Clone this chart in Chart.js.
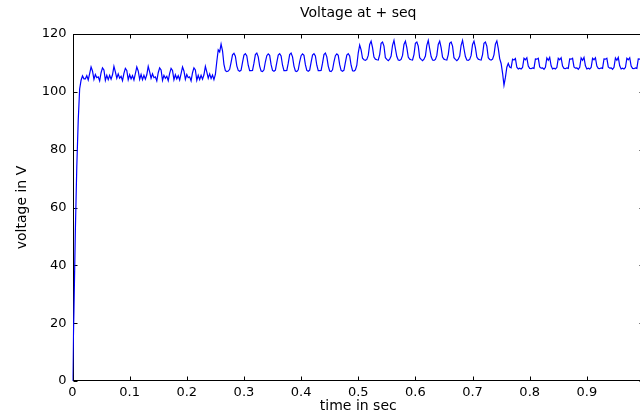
<!DOCTYPE html>
<html>
<head>
<meta charset="utf-8">
<title>Voltage at + seq</title>
<script src="https://cdn.jsdelivr.net/npm/chart.js@4.4.1/dist/chart.umd.min.js"></script>
<style>
  html, body { margin: 0; padding: 0; background: #fff; overflow: hidden; }
  #wrap { width: 650px; height: 416px; }
</style>
</head>
<body>
<div id="wrap"><canvas id="voltChart" width="650" height="416"></canvas></div>
<script>
// sampling of the waveform (sec between samples)
const sampleStep = 0.0025;

// 0 - 0.25 s : start-up then ~105 V ripple
const seg1 = [
    0, 24, 52, 74, 90, 101, 104, 105.5, 104.5,
    104.5, 105.6, 104.1, 106.3, 108.6, 107.2, 104.3, 106.0,
    104.9, 105.2, 103.8, 106.6, 108.3, 107.6, 104.0, 105.7,
    104.2, 105.7, 104.4, 105.9, 108.8, 106.9, 104.7, 106.2,
    104.7, 105.4, 103.9, 106.4, 108.1, 107.4, 104.2, 105.9,
    104.5, 105.6, 104.1, 106.3, 108.6, 107.2, 104.3, 106.0,
    104.2, 105.7, 104.4, 105.9, 108.8, 106.9, 104.7, 106.2,
    104.9, 105.2, 103.8, 106.6, 108.3, 107.6, 104.0, 105.7,
    104.7, 105.4, 103.9, 106.4, 108.1, 107.4, 104.2, 105.9,
    104.5, 105.6, 104.1, 106.3, 108.6, 107.2, 104.3, 106.0,
    104.9, 105.2, 103.8, 106.6, 108.3, 107.6, 104.0, 105.7,
    104.2, 105.7, 104.4, 105.9, 108.8, 106.9, 104.7, 106.2,
    104.6, 105.8, 104.2
];

// 0.25 - 0.5 s
const seg2 = [
    106, 110.5, 114.5, 113.8, 116.5, 114.2, 109.5, 107.3, 107.0,
    107.2, 107.8, 110.2, 112.8, 113.3, 112.3, 109.0, 107.4,
    107.1, 107.5, 110.2, 112.7, 113.2, 112.4, 109.2, 107.3,
    107.3, 107.4, 109.9, 112.9, 113.4, 112.1, 108.9, 107.2,
    107.0, 107.6, 110.4, 112.5, 113.1, 112.6, 109.4, 107.4,
    107.1, 107.5, 110.2, 112.7, 113.2, 112.4, 109.2, 107.3,
    107.3, 107.4, 109.9, 112.9, 113.4, 112.1, 108.9, 107.2,
    107.0, 107.6, 110.4, 112.5, 113.1, 112.6, 109.4, 107.4,
    107.1, 107.5, 110.2, 112.7, 113.2, 112.4, 109.2, 107.3,
    107.3, 107.4, 109.9, 112.9, 113.4, 112.1, 108.9, 107.2,
    107.0, 107.6, 110.4, 112.5, 113.1, 112.6, 109.4, 107.4,
    107.1, 107.5, 110.2, 112.7, 113.2, 112.4, 109.2, 107.3,
    107.2, 107.6, 109.2
];

// 0.5 - 0.75 s
const seg3 = [
    113.5, 116.2, 114.5, 111.6, 111.1,
    110.9, 111.2, 112.6, 116.4, 117.5, 115.3, 112.0, 111.3,
    111.1, 111.0, 112.9, 116.8, 117.2, 115.8, 111.8, 111.2,
    110.8, 111.3, 112.4, 116.1, 117.8, 114.9, 112.2, 111.0,
    110.9, 111.2, 112.6, 116.4, 117.5, 115.3, 112.0, 111.3,
    111.1, 111.0, 112.9, 116.8, 117.2, 115.8, 111.8, 111.2,
    110.8, 111.3, 112.4, 116.1, 117.8, 114.9, 112.2, 111.0,
    110.9, 111.2, 112.6, 116.4, 117.5, 115.3, 112.0, 111.3,
    111.1, 111.0, 112.9, 116.8, 117.2, 115.8, 111.8, 111.2,
    110.8, 111.3, 112.4, 116.1, 117.8, 114.9, 112.2, 111.0,
    110.9, 111.2, 112.6, 116.4, 117.5, 115.3, 112.0, 111.3,
    111.1, 111.0, 112.9, 116.8, 117.2, 115.8, 111.8, 111.2,
    111.0, 111.3, 112.8, 116.5, 117.6, 115.0, 111.5
];

// 0.75 - 1.0 s : dip then ~108 V ripple
const seg4 = [
    109.8, 106.5, 102.3, 105.0, 108.5, 109.8, 108.6, 108.3, 111.3, 111.0, 111.5, 108.5, 107.9,
    108.2, 107.9, 108.4, 111.6, 111.1, 111.8, 108.9, 108.1,
    108.0, 108.3, 108.1, 111.4, 111.3, 111.6, 108.6, 108.2,
    108.3, 107.8, 108.5, 111.7, 110.9, 111.9, 109.0, 107.9,
    108.2, 107.9, 108.4, 111.6, 111.1, 111.8, 108.9, 108.1,
    108.0, 108.3, 108.1, 111.4, 111.3, 111.6, 108.6, 108.2,
    108.3, 107.8, 108.5, 111.7, 110.9, 111.9, 109.0, 107.9,
    108.2, 107.9, 108.4, 111.6, 111.1, 111.8, 108.9, 108.1,
    108.0, 108.3, 108.1, 111.4, 111.3, 111.6, 108.6, 108.2,
    108.3, 107.8, 108.5, 111.7, 110.9, 111.9, 109.0, 107.9,
    108.2, 107.9, 108.4, 111.6, 111.1, 111.8, 108.9, 108.1,
    108.0, 108.3, 108.1, 111.4, 111.3, 111.6, 108.6, 108.2
];

const xTicks = [0, 0.1, 0.2, 0.3, 0.4, 0.5, 0.6, 0.7, 0.8, 0.9, 1];
const yTicks = [0, 20, 40, 60, 80, 100, 120];

const fontFamily = '"DejaVu Sans", Arial, sans-serif';
const tickLen = 4;

const voltage = seg1.concat(seg2, seg3, seg4);
const points = voltage.map((v, i) => ({ x: +(i * sampleStep).toFixed(4), y: v }));

// matlab style box with inward ticks on all four sides
const boxAxes = {
    id: 'boxAxes',
    beforeDatasetsDraw(chart) {
        const { ctx, chartArea: a, scales: { x, y } } = chart;
        ctx.save();
        ctx.strokeStyle = '#000';
        ctx.lineWidth = 1;
        const l = Math.round(a.left) + 0.5, r = Math.round(a.right) - 0.5;
        const t = Math.round(a.top) + 0.5, b = Math.round(a.bottom) - 0.5;
        ctx.strokeRect(l, t, r - l, b - t);
        ctx.beginPath();
        xTicks.forEach(v => {
            const px = Math.round(x.getPixelForValue(v)) + 0.5;
            ctx.moveTo(px, b); ctx.lineTo(px, b - tickLen);
            ctx.moveTo(px, t); ctx.lineTo(px, t + tickLen);
        });
        yTicks.forEach(v => {
            const py = Math.round(y.getPixelForValue(v)) + 0.5;
            ctx.moveTo(l, py); ctx.lineTo(l + tickLen, py);
            ctx.moveTo(r, py); ctx.lineTo(r - tickLen, py);
        });
        ctx.stroke();
        ctx.restore();
    }
};

const ctx = document.getElementById('voltChart').getContext('2d');
const voltChart = new Chart(ctx, {
    type: 'line',
    data: {
        datasets: [
            { label: 'voltage', data: points, borderColor: '#0000ff', borderWidth: 1.2, pointRadius: 0, tension: 0, fill: false }
        ]
    },
    options: {
        responsive: false,
        animation: false,
        devicePixelRatio: 1,
        layout: { padding: { left: 0, right: 6, top: 0, bottom: 0 } },
        scales: {
            x: {
                type: 'linear', min: 0, max: 1,
                grid: { display: false, drawTicks: false },
                border: { display: false },
                afterBuildTicks: s => { s.ticks = xTicks.map(v => ({ value: v })); },
                afterFit: s => { s.height = 35; },
                ticks: {
                    color: '#000', padding: 4, maxRotation: 0, autoSkip: false,
                    font: { family: fontFamily, size: 13 },
                    callback: v => (v >= 1 ? '' : String(v))
                },
                title: {
                    display: true, text: 'time in sec', color: '#000',
                    font: { family: fontFamily, size: 14 },
                    padding: { top: 0, bottom: 1.6 }
                }
            },
            y: {
                min: 0, max: 120,
                grid: { display: false, drawTicks: false },
                border: { display: false },
                afterBuildTicks: s => { s.ticks = yTicks.map(v => ({ value: v })); },
                afterFit: s => { s.width = 72.5; },
                ticks: {
                    color: '#000', padding: 6,
                    font: { family: fontFamily, size: 13 }
                },
                title: {
                    display: true, text: 'voltage in V', color: '#000',
                    font: { family: fontFamily, size: 14 },
                    padding: { top: 14, bottom: 0 }
                }
            }
        },
        plugins: {
            legend: { display: false },
            tooltip: { enabled: false },
            title: {
                display: true, text: 'Voltage at + seq', color: '#000', fullSize: false,
                font: { family: fontFamily, size: 14, weight: 'normal' },
                padding: { top: 5, bottom: 12.2 }
            }
        }
    },
    plugins: [boxAxes]
});
</script>
</body>
</html>
